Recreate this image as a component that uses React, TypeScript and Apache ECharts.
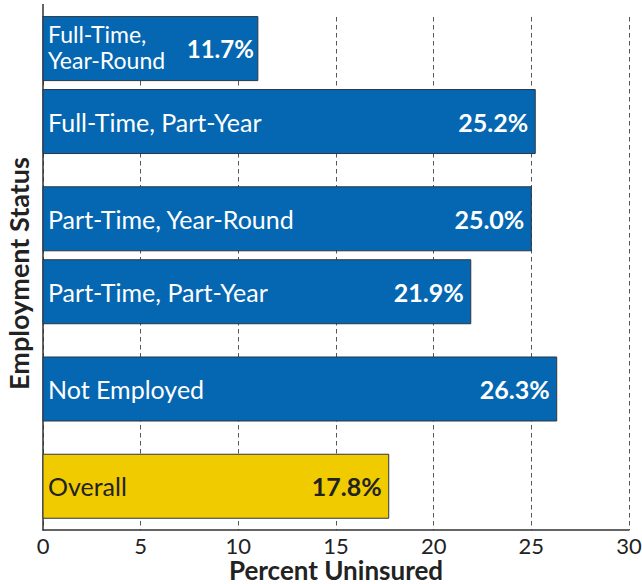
import React, { useEffect, useRef } from "react";
import * as echarts from "echarts";

const categories = [
  "Full-Time,\nYear-Round",
  "Full-Time, Part-Year",
  "Part-Time, Year-Round",
  "Part-Time, Part-Year",
  "Not Employed",
  "Overall",
];
// bar lengths as drawn in the picture
const barValues = [11.0, 25.2, 25.0, 21.9, 26.3, 17.7];
// printed labels
const valueLabels = ["11.7%", "25.2%", "25.0%", "21.9%", "26.3%", "17.8%"];
// vertical slot of each bar (uneven grouping)
const slots = [0, 3, 7, 10, 14, 18];
const xTicks = [0, 5, 10, 15, 20, 25, 30];

const FONT = "Lato, 'Open Sans', sans-serif";
const BLUE = "#0567b1";
const YELLOW = "#f0cb00";

export default function App() {
  const ref = useRef<HTMLDivElement>(null);
  useEffect(() => {
    if (!ref.current) return;
    const chart = echarts.init(ref.current, undefined, { renderer: "svg" });
    const data = barValues.map((v, i) => [v, slots[i]]);
    const option: any = {
      animation: false,
      grid: { left: 43, right: 13, top: 17, bottom: 54, containLabel: false, outerBoundsMode: "none" },
      xAxis: {
        type: "value",
        min: xTicks[0],
        max: xTicks[xTicks.length - 1],
        interval: 5,
        name: "Percent Uninsured",
        nameLocation: "middle",
        nameGap: 27,
        nameMoveOverlap: false,
        nameTextStyle: { fontFamily: FONT, fontWeight: "bold", fontSize: 26, color: "#222", lineHeight: 26 },
        axisLine: { show: true, onZero: false, lineStyle: { color: "#333", width: 1.5 } },
        axisTick: { show: false },
        axisLabel: { fontFamily: FONT, fontSize: 22, color: "#222", margin: 4, lineHeight: 22 },
        splitLine: { show: true, lineStyle: { color: "#555", width: 1, type: [4.5, 3.5] } },
      },
      yAxis: {
        type: "value",
        inverse: true,
        min: -1.3,
        max: 19.8,
        name: "Employment Status",
        nameLocation: "middle",
        nameRotate: 90,
        nameGap: 11,
        nameMoveOverlap: false,
        nameTextStyle: { fontFamily: FONT, fontWeight: "bold", fontSize: 27, color: "#222" },
        axisLine: { show: true, onZero: false, lineStyle: { color: "#333", width: 1.5 } },
        axisTick: { show: false },
        axisLabel: { show: false },
        splitLine: { show: false },
      },
      graphic: [
        { type: "line", shape: { x1: 43, y1: 4, x2: 43, y2: 17 }, style: { stroke: "#333", lineWidth: 1.5 } },
      ],
      series: [
        {
          type: "custom",
          encode: { x: 0, y: 1 },
          data,
          renderItem: (params: any, api: any) => {
            const i = params.dataIndex;
            const v = api.value(0);
            const p = api.value(1);
            const s = api.coord([0, p]);
            const e = api.coord([v, p]);
            const h = 64;
            const last = i === categories.length - 1;
            const multi = categories[i].indexOf("\n") >= 0;
            const fill = last ? YELLOW : BLUE;
            const txt = last ? "#222" : "#fff";
            return {
              type: "group",
              children: [
                {
                  type: "rect",
                  shape: { x: s[0], y: s[1] - h / 2, width: e[0] - s[0], height: h },
                  style: { fill, stroke: "#2d3642", lineWidth: 1 },
                },
                {
                  type: "text",
                  style: {
                    text: categories[i],
                    x: s[0] + 5,
                    y: s[1] - (multi ? 2 : 0),
                    align: "left",
                    verticalAlign: "middle",
                    fill: txt,
                    fontFamily: FONT,
                    fontSize: multi ? 23 : 25,
                    lineHeight: 26,
                  },
                },
                {
                  type: "text",
                  style: {
                    text: valueLabels[i],
                    x: e[0] - (multi ? 4 : 7),
                    y: s[1],
                    align: "right",
                    verticalAlign: "middle",
                    fill: txt,
                    fontFamily: FONT,
                    fontWeight: "bold",
                    fontSize: multi ? 24 : 25,
                  },
                },
              ],
            };
          },
        },
      ],
    };
    chart.setOption(option);
    return () => chart.dispose();
  }, []);
  return (
    <div
      ref={ref}
      style={{ position: "fixed", left: 0, top: 0, width: 642, height: 584, background: "#fff" }}
    />
  );
}
